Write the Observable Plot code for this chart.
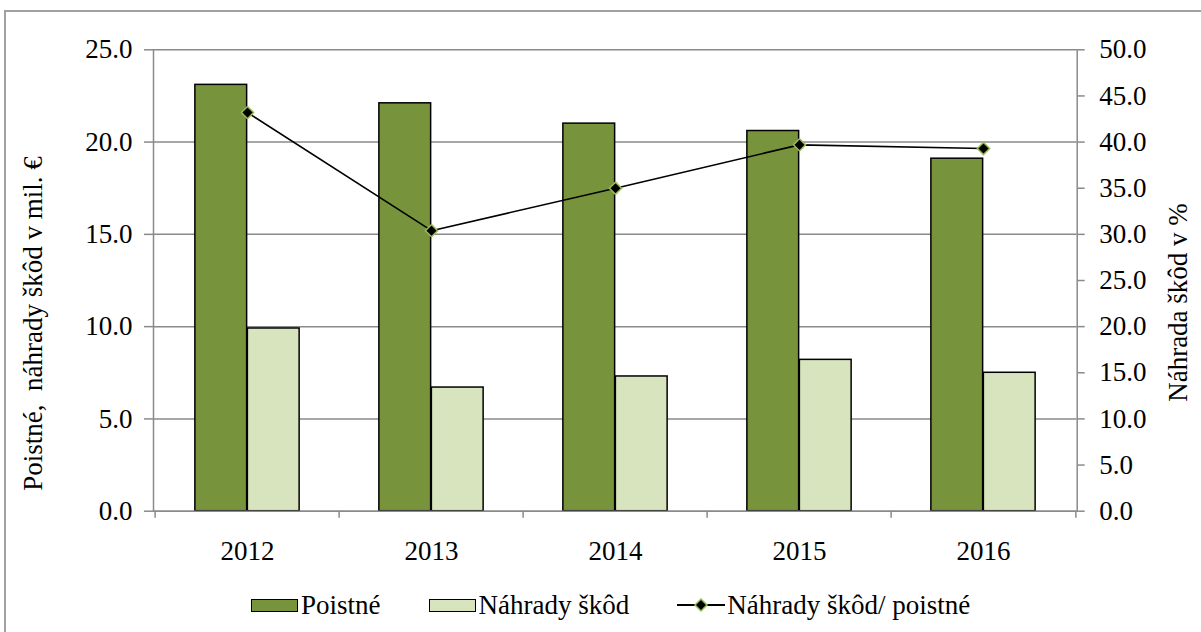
<!DOCTYPE html>
<html><head><meta charset="utf-8">
<script src="https://cdn.jsdelivr.net/npm/d3@7"></script>
<script src="https://cdn.jsdelivr.net/npm/@observablehq/plot@0.6"></script>
<style>
body{margin:0;background:#fff;}
#wrap{position:relative;width:1201px;height:632px;overflow:hidden;background:#fff;font-family:'Liberation Serif','DejaVu Serif','Times New Roman',Times,'Liberation Sans',serif;}
#frame{position:absolute;left:4px;top:10px;width:1230px;height:680px;border:2px solid #a0a0a0;box-sizing:border-box;}
#chart{position:absolute;left:0;top:0;}
#legend{position:absolute;top:588px;left:251px;height:34px;display:flex;align-items:center;font-size:27px;color:#000;white-space:nowrap;}
.item{display:flex;align-items:center;margin-right:48px;}
.sw{width:45px;height:11px;border:1.5px solid #000;margin-right:3px;}
#chart svg, #chart svg text{font-family:'Liberation Serif','DejaVu Serif','Times New Roman',Times,'Liberation Sans',serif !important;}
</style></head>
<body><div id="wrap"><div id="frame"></div><div id="chart"></div><div id="legend"></div></div>
<script>
const years = ["2012", "2013", "2014", "2015", "2016"];
const poistne = [23.1, 22.1, 21.0, 20.6, 19.1];
const nahrady = [9.9, 6.7, 7.3, 8.2, 7.5];
const pomer = [43.2, 30.4, 35.0, 39.7, 39.3];
const leftTicks = [0, 5, 10, 15, 20, 25];
const rightTicks = [0, 5, 10, 15, 20, 25, 30, 35, 40, 45, 50];
const seriesNames = ["Poistné", "Náhrady škôd", "Náhrady škôd/ poistné"];
const axisTitles = ["Poistné,  náhrady škôd v mil. €", "Náhrada škôd v %"];
const colors = ["#77933c", "#d7e4bd", "#000000"];
const markerStroke = "#9bbb59";

const data = years.map((y, i) => ({year: y, poistne: poistne[i], nahrady: nahrady[i], pomer: pomer[i]}));

const W = 1201, H = 580;
const mL = 153, mR = 124.3, mT = 49.3, mB = 69.3;
const bw = (W - mL - mR) / years.length;
const barW = 52.5;
const outer = (bw - 2 * barW) / 2;
const gridC = "#8a8a8a";
const fs = 27;
const ratio = 2; // right axis (%) is twice the left axis scale
const fixSpaces = s => s.replace(/  /g, " \u00a0");

const chart = Plot.plot({
  width: W, height: H,
  marginLeft: mL, marginRight: mR, marginTop: mT, marginBottom: mB,
  style: {fontSize: fs + "px", background: "transparent", color: "#000"},
  x: {type: "band", domain: years, padding: 0},
  y: {domain: [0, 25]},
  marks: [
    Plot.gridY(leftTicks, {stroke: gridC, strokeOpacity: 1, strokeWidth: 1.5}),
    Plot.barY(data, {x: "year", y: "poistne", fill: colors[0], stroke: "#000", strokeWidth: 1.5, insetLeft: outer, insetRight: outer + barW}),
    Plot.barY(data, {x: "year", y: "nahrady", fill: colors[1], stroke: "#000", strokeWidth: 1.5, insetLeft: outer + barW, insetRight: outer}),
    Plot.ruleY([0], {stroke: gridC, strokeWidth: 1.5}),
    Plot.frame({anchor: "left", stroke: gridC, strokeWidth: 1.5}),
    Plot.frame({anchor: "right", stroke: gridC, strokeWidth: 1.5}),
    Plot.axisY(leftTicks, {anchor: "left", tickSize: 9, tickPadding: 12, stroke: gridC, strokeWidth: 1.5, fill: "#000", fontSize: fs, tickFormat: d => d.toFixed(1), label: null}),
    Plot.axisY(rightTicks.map(d => d / ratio), {anchor: "right", tickSize: 7, tickPadding: 15, stroke: gridC, strokeWidth: 1.5, fill: "#000", fontSize: fs, tickFormat: d => (d * ratio).toFixed(1), label: null}),
    Plot.axisX({tickSize: 0, tickPadding: 30, fill: "#000", fontSize: fs, label: null}),
    Plot.axisX(years, {text: null, tickSize: 7, dx: -bw / 2, stroke: gridC, strokeWidth: 1.5, label: null}),
    Plot.axisX([years[years.length - 1]], {text: null, tickSize: 7, dx: bw / 2, stroke: gridC, strokeWidth: 1.5, label: null}),
    Plot.line(data, {x: "year", y: d => d.pomer / ratio, stroke: colors[2], strokeWidth: 1.6}),
    Plot.dot(data, {x: "year", y: d => d.pomer / ratio, symbol: "diamond2", r: 5.5, fill: "#000", stroke: markerStroke, strokeWidth: 1.5}),
    Plot.text([axisTitles[0]], {text: d => fixSpaces(d), frameAnchor: "left", textAnchor: "middle", lineAnchor: "middle", rotate: -90, dx: -120, dy: 43, fontSize: fs, fill: "#000"}),
    Plot.text([axisTitles[1]], {text: d => d, frameAnchor: "right", textAnchor: "middle", lineAnchor: "middle", rotate: -90, dx: 101, dy: 22, fontSize: fs, fill: "#000"})
  ]
});
document.getElementById("chart").appendChild(chart);

// legend
const leg = document.getElementById("legend");
seriesNames.forEach((name, i) => {
  const item = document.createElement("div");
  item.className = "item";
  if (i < 2) {
    const sw = document.createElement("div");
    sw.className = "sw";
    sw.style.background = colors[i];
    item.appendChild(sw);
  } else {
    const svg = d3.create("svg").attr("width", 48).attr("height", 20).style("margin-right", "2px");
    svg.append("line").attr("x1", 0).attr("x2", 48).attr("y1", 10).attr("y2", 10).attr("stroke", "#000").attr("stroke-width", 1.8);
    svg.append("path").attr("d", "M24,4L30,10L24,16L18,10Z").attr("fill", "#000").attr("stroke", markerStroke).attr("stroke-width", 1.5);
    item.appendChild(svg.node());
  }
  const t = document.createElement("span");
  t.textContent = name;
  item.appendChild(t);
  leg.appendChild(item);
});
</script>
</body></html>
